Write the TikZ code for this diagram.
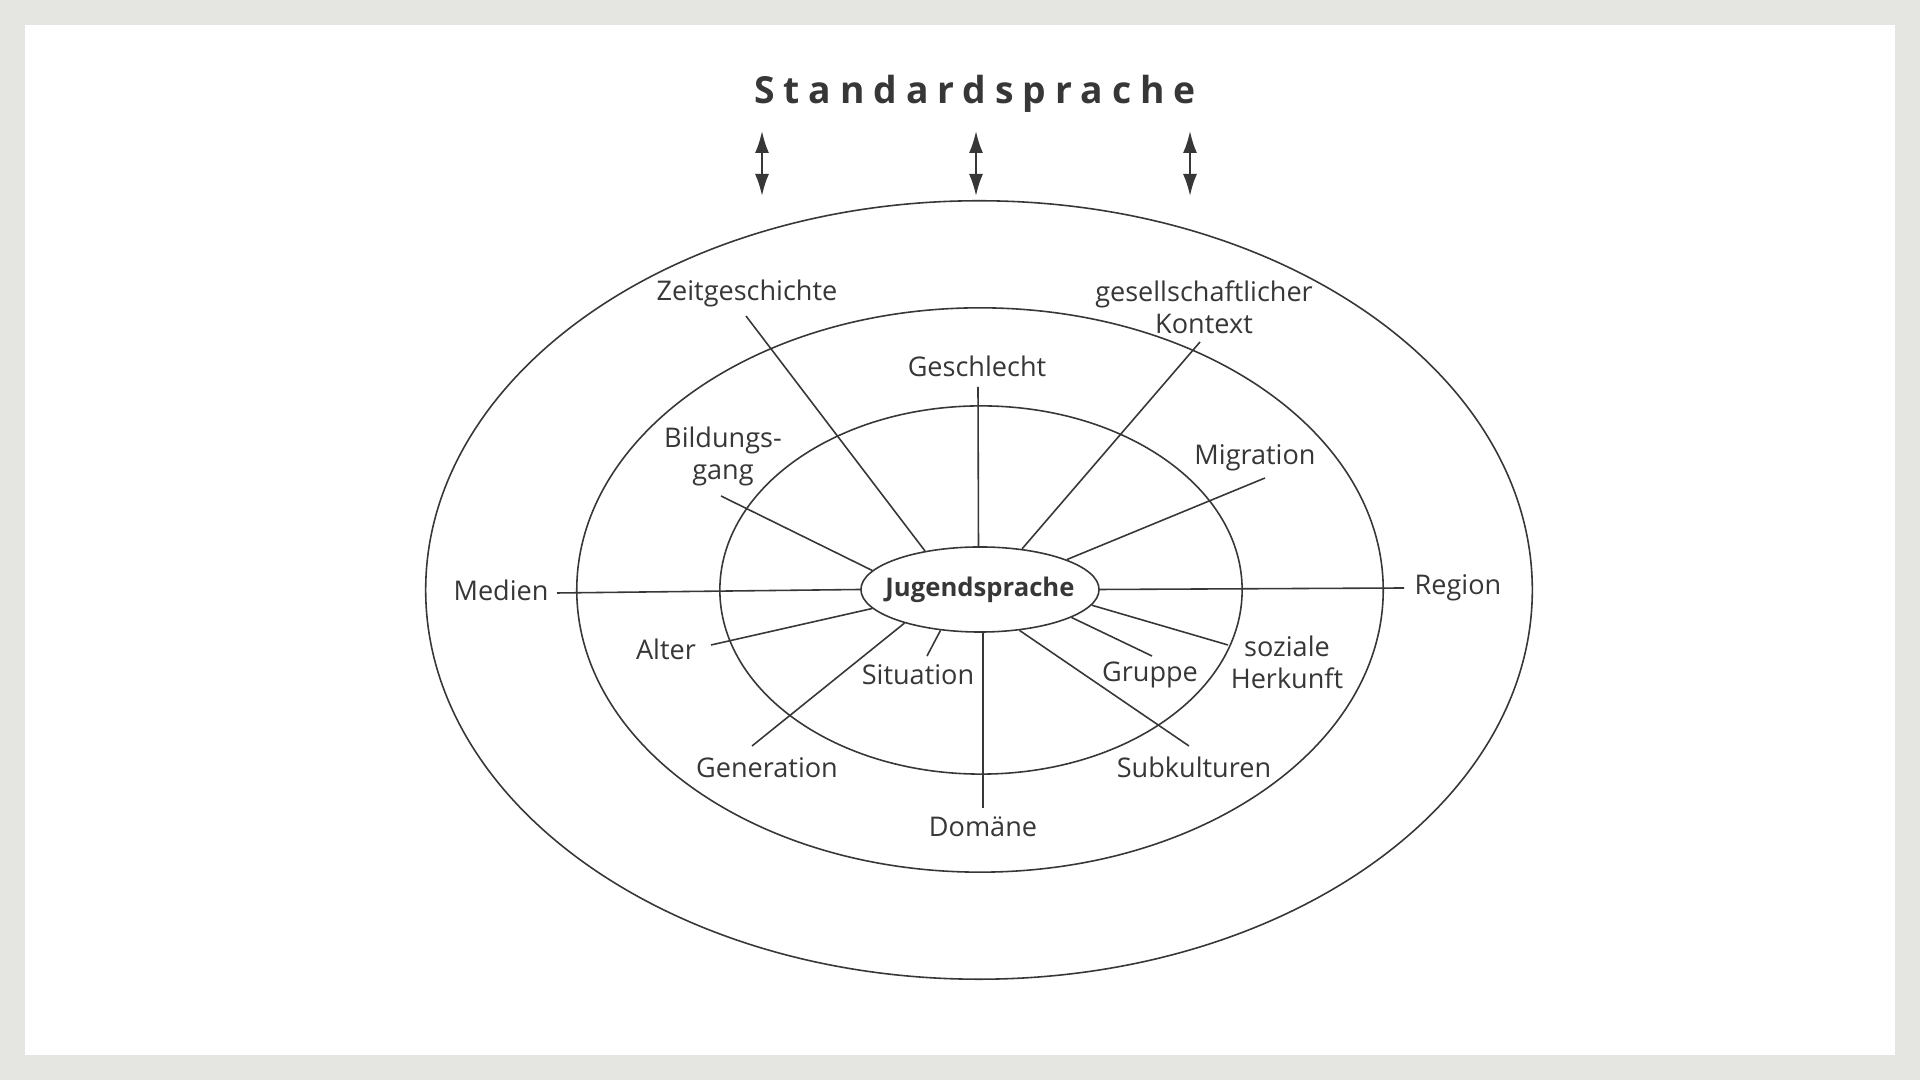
\documentclass[tikz,border=0pt]{standalone}
\usepackage{fontspec}
\setmainfont{Open Sans}
\newfontfamily\spacedfont[LetterSpace=24]{Open Sans}
\usetikzlibrary{shapes.geometric,arrows.meta}
\definecolor{framegray}{RGB}{229,229,225}
\definecolor{ink}{RGB}{55,55,55}
\begin{document}
\begin{tikzpicture}[x=0.01cm,y=-0.01cm,
  lbl/.style={font=\fontsize{7.7}{9.1}\selectfont, text=ink, inner sep=0pt, align=center},
  ring/.style={draw=ink, line width=0.45pt},
  spoke/.style={draw=ink, line width=0.45pt},
  dbl/.style={draw=ink, line width=0.6pt, {Latex[length=0.22cm,width=0.14cm]}-{Latex[length=0.22cm,width=0.14cm]}}
]
\fill[framegray] (0,0) rectangle (1920,1080);
\fill[white] (25,25) rectangle (1895,1055);
\useasboundingbox (0,0) rectangle (1920,1080);

% rings
\draw[ring] (979,590) ellipse [x radius=5.53cm, y radius=3.89cm];
\draw[ring] (980,590) ellipse [x radius=4.03cm, y radius=2.82cm];
\draw[ring] (981,590) ellipse [x radius=2.61cm, y radius=1.84cm];

% centre
\node[ellipse, draw=ink, line width=0.45pt, minimum width=2.38cm, minimum height=0.85cm, inner sep=0pt] (J) at (980,589.5) {};
\node[text=ink, inner sep=0pt, font=\fontsize{7.3}{9}\selectfont\bfseries] (Jt) at (J) {Jugendsprache};

% title and arrows
\node[text=ink, inner sep=0pt, font=\fontsize{10.6}{12}\selectfont\spacedfont\bfseries] (S) at (975,94) {Standardsprache};
\coordinate (a1t) at (762,131); \coordinate (a1b) at (762,196);
\coordinate (a2t) at (976,131); \coordinate (a2b) at (976,196);
\coordinate (a3t) at (1190,131); \coordinate (a3b) at (1190,196);
\draw[dbl] (a1t) -- (a1b);
\draw[dbl] (a2t) -- (a2b);
\draw[dbl] (a3t) -- (a3b);

% labels
\node[lbl] (Zeit) at (747,293) {Zeitgeschichte};
\node[lbl] (Geschl) at (977,366) {Geschlecht};
\node[lbl] (GesK) at (1204,307) {gesellschaftlicher\\Kontext};
\node[lbl] (Bild) at (723,456) {Bildungs-\\gang};
\node[lbl] (Migr) at (1255,458) {Migration};
\node[lbl] (Med) at (501,590) {Medien};
\node[lbl] (Reg) at (1458,588) {Region};
\node[lbl] (Alt) at (666,649) {Alter};
\node[lbl] (Sit) at (918,675) {Situation};
\node[lbl] (Gen) at (767,768) {Generation};
\node[lbl] (Dom) at (983,827) {Domäne};
\node[lbl] (Grp) at (1150,675) {Gruppe};
\node[lbl] (Soz) at (1287,662) {soziale\\Herkunft};
\node[lbl] (Sub) at (1194,767) {Subkulturen};

% spoke ends
\coordinate (pZeit) at (746,316);
\coordinate (pGeschl) at (978,387);
\coordinate (pGesK) at (1200,342);
\coordinate (pBild) at (721,496);
\coordinate (pMigr) at (1265,478);
\coordinate (pMed) at (557,593);
\coordinate (pReg) at (1404,588);
\coordinate (pAlt) at (711,645);
\coordinate (pSit) at (927,656);
\coordinate (pGen) at (752,746);
\coordinate (pDom) at (983,808);
\coordinate (pGrp) at (1152,656);
\coordinate (pSoz) at (1228,645);
\coordinate (pSub) at (1189,746);

\draw[spoke] (pZeit) -- (J.145.5);
\draw[spoke] (pGeschl) -- (J.92);
\draw[spoke] (pGesK) -- (J.44);
\draw[spoke] (pBild) -- (J.170.8);
\draw[spoke] (pMigr) -- (J.19.7);
\draw[spoke] (pMed) -- (J.180);
\draw[spoke] (pReg) -- (J.0);
\draw[spoke] (pAlt) -- (J.190.3);
\draw[spoke] (pSit) -- (J.226.7);
\draw[spoke] (pGen) -- (J.204.8);
\draw[spoke] (pDom) -- (J.274);
\draw[spoke] (pGrp) -- (J.343.5);
\draw[spoke] (pSoz) -- (J.352.9);
\draw[spoke] (pSub) -- (J.314.7);
\end{tikzpicture}
\end{document}
